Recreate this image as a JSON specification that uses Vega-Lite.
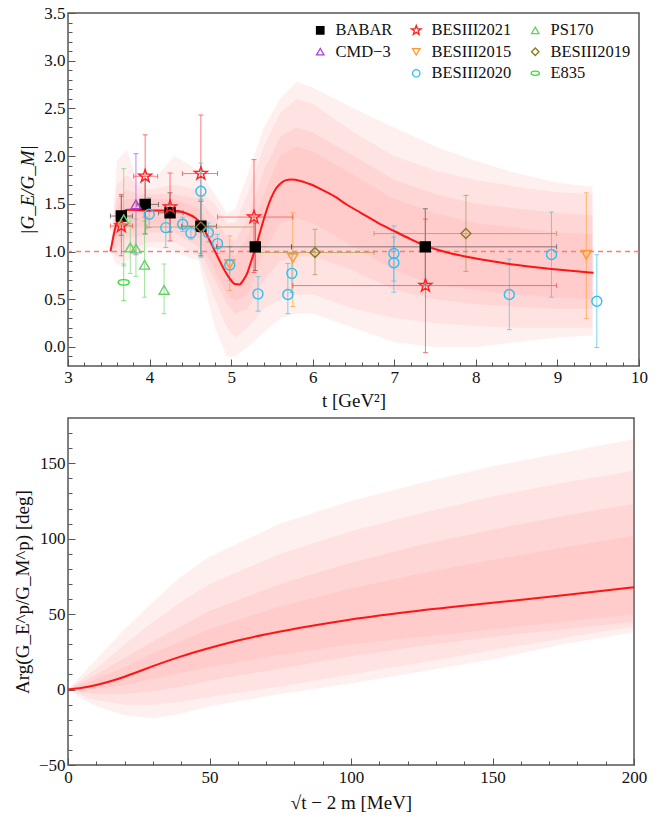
{
  "$schema": "https://vega.github.io/schema/vega-lite/v6.json",
  "padding": {"top": 3, "left": 12, "right": 30, "bottom": 4},
  "spacing": 6,
  "datasets": {
    "pts": [
      {"exp": "BABAR", "t": 3.654, "v": 1.372, "vlo": 1.17, "vhi": 1.58, "tlo": 3.52, "thi": 3.79},
      {"exp": "BABAR", "t": 3.946, "v": 1.494, "vlo": 1.184, "vhi": 1.757, "tlo": 3.845, "thi": 4.11},
      {"exp": "BABAR", "t": 4.251, "v": 1.406, "vlo": 1.205, "vhi": 1.615, "tlo": 4.11, "thi": 4.41},
      {"exp": "BABAR", "t": 4.629, "v": 1.265, "vlo": 0.955, "vhi": 1.528, "tlo": 4.394, "thi": 4.821},
      {"exp": "BABAR", "t": 5.296, "v": 1.049, "vlo": 0.8, "vhi": 1.3, "tlo": 4.821, "thi": 5.74},
      {"exp": "BABAR", "t": 7.38, "v": 1.049, "vlo": 0.65, "vhi": 1.448, "tlo": 5.74, "thi": 8.99},
      {"exp": "BESIII2021", "t": 3.654, "v": 1.268, "vlo": 0.955, "vhi": 1.598, "tlo": 3.52, "thi": 3.79},
      {"exp": "BESIII2021", "t": 3.946, "v": 1.789, "vlo": 1.36, "vhi": 2.223, "tlo": 3.805, "thi": 4.098},
      {"exp": "BESIII2021", "t": 4.251, "v": 1.466, "vlo": 1.111, "vhi": 1.823},
      {"exp": "BESIII2021", "t": 4.629, "v": 1.817, "vlo": 1.2, "vhi": 2.431, "tlo": 4.402, "thi": 4.833},
      {"exp": "BESIII2021", "t": 5.28, "v": 1.361, "vlo": 0.78, "vhi": 1.963, "tlo": 4.833, "thi": 5.756},
      {"exp": "BESIII2021", "t": 7.382, "v": 0.643, "vlo": -0.06, "vhi": 1.34, "tlo": 5.756, "thi": 8.99},
      {"exp": "CMD−3", "t": 3.833, "v": 1.494, "vlo": 0.966, "vhi": 2.025},
      {"exp": "PS170", "t": 3.683, "v": 1.338, "vlo": 0.85, "vhi": 1.869},
      {"exp": "PS170", "t": 3.763, "v": 1.042, "vlo": 0.771, "vhi": 1.354},
      {"exp": "PS170", "t": 3.833, "v": 1.031, "vlo": 0.74, "vhi": 1.34},
      {"exp": "PS170", "t": 3.939, "v": 0.861, "vlo": 0.521, "vhi": 1.32},
      {"exp": "PS170", "t": 4.178, "v": 0.598, "vlo": 0.348, "vhi": 0.869},
      {"exp": "E835", "t": 3.683, "v": 0.677, "vlo": 0.486, "vhi": 0.869},
      {"exp": "BESIII2015", "t": 4.983, "v": 0.869, "vlo": 0.591, "vhi": 1.164},
      {"exp": "BESIII2015", "t": 5.756, "v": 0.931, "vlo": 0.424, "vhi": 1.406},
      {"exp": "BESIII2015", "t": 9.354, "v": 0.966, "vlo": 0.296, "vhi": 1.615},
      {"exp": "BESIII2019", "t": 4.629, "v": 1.257, "vlo": 0.98, "vhi": 1.55, "tlo": 3.967, "thi": 5.296},
      {"exp": "BESIII2019", "t": 6.028, "v": 0.99, "vlo": 0.757, "vhi": 1.233, "tlo": 5.296, "thi": 6.751},
      {"exp": "BESIII2019", "t": 7.878, "v": 1.188, "vlo": 0.792, "vhi": 1.588, "tlo": 6.751, "thi": 8.99},
      {"exp": "BESIII2020", "t": 3.995, "v": 1.39, "vlo": 1.25, "vhi": 1.563},
      {"exp": "BESIII2020", "t": 4.199, "v": 1.25, "vlo": 1.042, "vhi": 1.494},
      {"exp": "BESIII2020", "t": 4.406, "v": 1.285, "vlo": 1.21, "vhi": 1.36},
      {"exp": "BESIII2020", "t": 4.507, "v": 1.195, "vlo": 1.13, "vhi": 1.26},
      {"exp": "BESIII2020", "t": 4.629, "v": 1.632, "vlo": 0.94, "vhi": 1.927},
      {"exp": "BESIII2020", "t": 4.72, "v": 1.198, "vlo": 1.1, "vhi": 1.3},
      {"exp": "BESIII2020", "t": 4.833, "v": 1.083, "vlo": 0.98, "vhi": 1.18},
      {"exp": "BESIII2020", "t": 4.983, "v": 0.858, "vlo": 0.7, "vhi": 1.05},
      {"exp": "BESIII2020", "t": 5.329, "v": 0.556, "vlo": 0.375, "vhi": 0.736},
      {"exp": "BESIII2020", "t": 5.695, "v": 0.549, "vlo": 0.348, "vhi": 0.875},
      {"exp": "BESIII2020", "t": 5.744, "v": 0.771, "vlo": 0.57, "vhi": 0.97},
      {"exp": "BESIII2020", "t": 6.995, "v": 0.979, "vlo": 0.69, "vhi": 1.268},
      {"exp": "BESIII2020", "t": 6.995, "v": 0.882, "vlo": 0.573, "vhi": 1.15},
      {"exp": "BESIII2020", "t": 8.41, "v": 0.549, "vlo": 0.181, "vhi": 0.921},
      {"exp": "BESIII2020", "t": 8.927, "v": 0.969, "vlo": 0.521, "vhi": 1.414},
      {"exp": "BESIII2020", "t": 9.483, "v": 0.479, "vlo": -0.006, "vhi": 0.966}
    ],
    "curve1": [
      {"t": 3.52, "v": 1.0}, {"t": 3.55, "v": 1.13}, {"t": 3.58, "v": 1.25}, {"t": 3.62, "v": 1.35},
      {"t": 3.683, "v": 1.424}, {"t": 3.744, "v": 1.438}, {"t": 3.85, "v": 1.435}, {"t": 3.946, "v": 1.428},
      {"t": 4.15, "v": 1.431}, {"t": 4.354, "v": 1.424}, {"t": 4.45, "v": 1.4}, {"t": 4.556, "v": 1.354},
      {"t": 4.62, "v": 1.3}, {"t": 4.678, "v": 1.216}, {"t": 4.74, "v": 1.11}, {"t": 4.8, "v": 1.007},
      {"t": 4.86, "v": 0.9}, {"t": 4.922, "v": 0.799}, {"t": 4.98, "v": 0.72}, {"t": 5.044, "v": 0.66},
      {"t": 5.1, "v": 0.655}, {"t": 5.146, "v": 0.695}, {"t": 5.2, "v": 0.78}, {"t": 5.248, "v": 0.903},
      {"t": 5.31, "v": 1.07}, {"t": 5.37, "v": 1.25}, {"t": 5.43, "v": 1.42}, {"t": 5.491, "v": 1.5625},
      {"t": 5.55, "v": 1.66}, {"t": 5.613, "v": 1.719}, {"t": 5.675, "v": 1.748}, {"t": 5.735, "v": 1.754},
      {"t": 5.85, "v": 1.74}, {"t": 5.979, "v": 1.702}, {"t": 6.12, "v": 1.645}, {"t": 6.263, "v": 1.58},
      {"t": 6.42, "v": 1.49}, {"t": 6.589, "v": 1.406}, {"t": 6.8, "v": 1.3}, {"t": 6.995, "v": 1.216},
      {"t": 7.2, "v": 1.13}, {"t": 7.382, "v": 1.059}, {"t": 7.65, "v": 0.99}, {"t": 7.971, "v": 0.931},
      {"t": 8.2, "v": 0.897}, {"t": 8.41, "v": 0.869}, {"t": 8.65, "v": 0.843}, {"t": 8.927, "v": 0.817},
      {"t": 9.2, "v": 0.795}, {"t": 9.443, "v": 0.778}
    ],
    "band1": [
      {"band": "A", "t": 3.52, "lo": 1.0, "hi": 1.0}, {"band": "A", "t": 3.6, "lo": 0.85, "hi": 1.95}, {"band": "A", "t": 3.72, "lo": 0.9, "hi": 2.07}, {"band": "A", "t": 3.85, "lo": 1.0, "hi": 1.75}, {"band": "A", "t": 4.0, "lo": 1.05, "hi": 1.7}, {"band": "A", "t": 4.3, "lo": 1.0, "hi": 2.0}, {"band": "A", "t": 4.6, "lo": 0.9, "hi": 1.85}, {"band": "A", "t": 4.8, "lo": 0.2, "hi": 1.6}, {"band": "A", "t": 4.95, "lo": -0.1, "hi": 1.4}, {"band": "A", "t": 5.05, "lo": -0.1, "hi": 1.45}, {"band": "A", "t": 5.2, "lo": 0.0, "hi": 1.8}, {"band": "A", "t": 5.4, "lo": 0.15, "hi": 2.3}, {"band": "A", "t": 5.6, "lo": 0.3, "hi": 2.6}, {"band": "A", "t": 5.8, "lo": 0.35, "hi": 2.78}, {"band": "A", "t": 6.0, "lo": 0.35, "hi": 2.72}, {"band": "A", "t": 6.5, "lo": 0.2, "hi": 2.5}, {"band": "A", "t": 7.0, "lo": 0.05, "hi": 2.3}, {"band": "A", "t": 7.5, "lo": 0.0, "hi": 2.1}, {"band": "A", "t": 8.0, "lo": 0.0, "hi": 1.95}, {"band": "A", "t": 8.5, "lo": 0.05, "hi": 1.82}, {"band": "A", "t": 9.0, "lo": 0.1, "hi": 1.72}, {"band": "A", "t": 9.43, "lo": 0.12, "hi": 1.68},
      {"band": "B", "t": 3.52, "lo": 1.0, "hi": 1.0}, {"band": "B", "t": 3.6, "lo": 0.95, "hi": 1.7}, {"band": "B", "t": 3.72, "lo": 1.0, "hi": 1.8}, {"band": "B", "t": 3.85, "lo": 1.05, "hi": 1.7}, {"band": "B", "t": 4.0, "lo": 1.1, "hi": 1.65}, {"band": "B", "t": 4.3, "lo": 1.1, "hi": 1.7}, {"band": "B", "t": 4.6, "lo": 0.95, "hi": 1.65}, {"band": "B", "t": 4.8, "lo": 0.5, "hi": 1.5}, {"band": "B", "t": 4.95, "lo": 0.2, "hi": 1.3}, {"band": "B", "t": 5.05, "lo": 0.1, "hi": 1.3}, {"band": "B", "t": 5.2, "lo": 0.2, "hi": 1.6}, {"band": "B", "t": 5.4, "lo": 0.4, "hi": 2.1}, {"band": "B", "t": 5.6, "lo": 0.5, "hi": 2.45}, {"band": "B", "t": 5.8, "lo": 0.55, "hi": 2.6}, {"band": "B", "t": 6.0, "lo": 0.55, "hi": 2.55}, {"band": "B", "t": 6.5, "lo": 0.4, "hi": 2.25}, {"band": "B", "t": 7.0, "lo": 0.3, "hi": 2.0}, {"band": "B", "t": 7.5, "lo": 0.25, "hi": 1.85}, {"band": "B", "t": 8.0, "lo": 0.22, "hi": 1.75}, {"band": "B", "t": 8.5, "lo": 0.2, "hi": 1.68}, {"band": "B", "t": 9.0, "lo": 0.2, "hi": 1.62}, {"band": "B", "t": 9.43, "lo": 0.2, "hi": 1.6},
      {"band": "C", "t": 3.52, "lo": 1.0, "hi": 1.0}, {"band": "C", "t": 3.6, "lo": 1.05, "hi": 1.55}, {"band": "C", "t": 3.72, "lo": 1.15, "hi": 1.65}, {"band": "C", "t": 3.85, "lo": 1.15, "hi": 1.6}, {"band": "C", "t": 4.0, "lo": 1.2, "hi": 1.6}, {"band": "C", "t": 4.3, "lo": 1.2, "hi": 1.6}, {"band": "C", "t": 4.6, "lo": 1.05, "hi": 1.55}, {"band": "C", "t": 4.8, "lo": 0.7, "hi": 1.35}, {"band": "C", "t": 4.95, "lo": 0.45, "hi": 1.15}, {"band": "C", "t": 5.05, "lo": 0.35, "hi": 1.1}, {"band": "C", "t": 5.2, "lo": 0.4, "hi": 1.35}, {"band": "C", "t": 5.4, "lo": 0.7, "hi": 1.85}, {"band": "C", "t": 5.6, "lo": 0.9, "hi": 2.2}, {"band": "C", "t": 5.8, "lo": 0.95, "hi": 2.3}, {"band": "C", "t": 6.0, "lo": 0.95, "hi": 2.25}, {"band": "C", "t": 6.5, "lo": 0.8, "hi": 2.0}, {"band": "C", "t": 7.0, "lo": 0.6, "hi": 1.75}, {"band": "C", "t": 7.5, "lo": 0.5, "hi": 1.6}, {"band": "C", "t": 8.0, "lo": 0.45, "hi": 1.5}, {"band": "C", "t": 8.5, "lo": 0.42, "hi": 1.45}, {"band": "C", "t": 9.0, "lo": 0.4, "hi": 1.4}, {"band": "C", "t": 9.43, "lo": 0.4, "hi": 1.38},
      {"band": "D", "t": 3.52, "lo": 1.0, "hi": 1.0}, {"band": "D", "t": 3.6, "lo": 1.15, "hi": 1.45}, {"band": "D", "t": 3.72, "lo": 1.25, "hi": 1.55}, {"band": "D", "t": 3.85, "lo": 1.25, "hi": 1.55}, {"band": "D", "t": 4.0, "lo": 1.28, "hi": 1.55}, {"band": "D", "t": 4.3, "lo": 1.28, "hi": 1.55}, {"band": "D", "t": 4.6, "lo": 1.15, "hi": 1.45}, {"band": "D", "t": 4.8, "lo": 0.8, "hi": 1.2}, {"band": "D", "t": 4.95, "lo": 0.55, "hi": 1.0}, {"band": "D", "t": 5.05, "lo": 0.48, "hi": 0.95}, {"band": "D", "t": 5.2, "lo": 0.55, "hi": 1.15}, {"band": "D", "t": 5.4, "lo": 1.0, "hi": 1.6}, {"band": "D", "t": 5.6, "lo": 1.3, "hi": 2.0}, {"band": "D", "t": 5.8, "lo": 1.35, "hi": 2.1}, {"band": "D", "t": 6.0, "lo": 1.3, "hi": 2.05}, {"band": "D", "t": 6.5, "lo": 1.05, "hi": 1.8}, {"band": "D", "t": 7.0, "lo": 0.8, "hi": 1.55}, {"band": "D", "t": 7.5, "lo": 0.65, "hi": 1.4}, {"band": "D", "t": 8.0, "lo": 0.6, "hi": 1.3}, {"band": "D", "t": 8.5, "lo": 0.55, "hi": 1.25}, {"band": "D", "t": 9.0, "lo": 0.52, "hi": 1.2}, {"band": "D", "t": 9.43, "lo": 0.5, "hi": 1.18}
    ],
    "curve2": [
      {"x": 0, "v": 0}, {"x": 5, "v": 1.2}, {"x": 10, "v": 3}, {"x": 15, "v": 5.5}, {"x": 20, "v": 8.5},
      {"x": 25, "v": 12}, {"x": 30, "v": 15.5}, {"x": 40, "v": 22}, {"x": 50, "v": 27.5}, {"x": 60, "v": 32.5},
      {"x": 75, "v": 38.5}, {"x": 90, "v": 43.5}, {"x": 100, "v": 46.5}, {"x": 125, "v": 52.5},
      {"x": 150, "v": 57.5}, {"x": 175, "v": 62.5}, {"x": 200, "v": 67.8}
    ],
    "band2": [
      {"band": "A", "x": 0, "lo": 0, "hi": 0}, {"band": "A", "x": 5, "lo": -6, "hi": 10}, {"band": "A", "x": 10, "lo": -11, "hi": 20}, {"band": "A", "x": 20, "lo": -17, "hi": 40}, {"band": "A", "x": 30, "lo": -19, "hi": 58}, {"band": "A", "x": 40, "lo": -16, "hi": 75}, {"band": "A", "x": 50, "lo": -11, "hi": 88}, {"band": "A", "x": 75, "lo": -3, "hi": 110}, {"band": "A", "x": 100, "lo": 4, "hi": 125}, {"band": "A", "x": 125, "lo": 12, "hi": 137}, {"band": "A", "x": 150, "lo": 20, "hi": 148}, {"band": "A", "x": 175, "lo": 30, "hi": 157}, {"band": "A", "x": 200, "lo": 38, "hi": 166},
      {"band": "B", "x": 0, "lo": 0, "hi": 0}, {"band": "B", "x": 5, "lo": -4, "hi": 7}, {"band": "B", "x": 10, "lo": -7, "hi": 14}, {"band": "B", "x": 20, "lo": -10, "hi": 30}, {"band": "B", "x": 30, "lo": -10, "hi": 45}, {"band": "B", "x": 40, "lo": -8, "hi": 58}, {"band": "B", "x": 50, "lo": -5, "hi": 70}, {"band": "B", "x": 75, "lo": 2, "hi": 90}, {"band": "B", "x": 100, "lo": 10, "hi": 105}, {"band": "B", "x": 125, "lo": 18, "hi": 117}, {"band": "B", "x": 150, "lo": 26, "hi": 128}, {"band": "B", "x": 175, "lo": 34, "hi": 137}, {"band": "B", "x": 200, "lo": 42, "hi": 145},
      {"band": "C", "x": 0, "lo": 0, "hi": 0}, {"band": "C", "x": 5, "lo": -2, "hi": 5}, {"band": "C", "x": 10, "lo": -3, "hi": 10}, {"band": "C", "x": 20, "lo": -3, "hi": 21}, {"band": "C", "x": 30, "lo": -1, "hi": 32}, {"band": "C", "x": 40, "lo": 2, "hi": 42}, {"band": "C", "x": 50, "lo": 6, "hi": 52}, {"band": "C", "x": 75, "lo": 14, "hi": 70}, {"band": "C", "x": 100, "lo": 22, "hi": 84}, {"band": "C", "x": 125, "lo": 29, "hi": 96}, {"band": "C", "x": 150, "lo": 35, "hi": 106}, {"band": "C", "x": 175, "lo": 40, "hi": 115}, {"band": "C", "x": 200, "lo": 45, "hi": 123},
      {"band": "D", "x": 0, "lo": 0, "hi": 0}, {"band": "D", "x": 5, "lo": 0, "hi": 3.5}, {"band": "D", "x": 10, "lo": 0.5, "hi": 7}, {"band": "D", "x": 20, "lo": 3, "hi": 15}, {"band": "D", "x": 30, "lo": 7, "hi": 24}, {"band": "D", "x": 40, "lo": 11, "hi": 32}, {"band": "D", "x": 50, "lo": 15, "hi": 40}, {"band": "D", "x": 75, "lo": 23, "hi": 55}, {"band": "D", "x": 100, "lo": 30, "hi": 67}, {"band": "D", "x": 125, "lo": 35, "hi": 77}, {"band": "D", "x": 150, "lo": 40, "hi": 86}, {"band": "D", "x": 175, "lo": 45, "hi": 94}, {"band": "D", "x": 200, "lo": 50, "hi": 102}
    ]
  },
  "vconcat": [
    {
      "width": 571,
      "height": 353,
      "resolve": {"axis": {"x": "independent", "y": "independent"}},
      "layer": [
        {
          "data": {"name": "band1"},
          "mark": {"type": "area", "fill": "#ff7070", "opacity": 0.1, "clip": true},
          "encoding": {
            "x": {"field": "t", "type": "quantitative", "title": "t [GeV²]",
              "scale": {"domain": [3, 10], "nice": false, "zero": false},
              "axis": {"orient": "bottom", "values": [3, 4, 5, 6, 7, 8, 9, 10], "format": "d", "tickSize": -7,
                "labelOverlap": false, "labelPadding": 10, "titlePadding": 6}},
            "y": {"field": "lo", "type": "quantitative", "title": "|G_E/G_M|",
              "scale": {"domain": [-0.2, 3.5], "nice": false, "zero": false},
              "axis": {"orient": "left", "titleFontStyle": "italic", "values": [0, 0.5, 1, 1.5, 2, 2.5, 3, 3.5], "format": ".1f", "tickSize": -7,
                "labelOverlap": false, "labelPadding": 10, "titlePadding": 6}},
            "y2": {"field": "hi"},
            "detail": {"field": "band", "type": "nominal"}
          }
        },
        {
          "data": {"values": [{}]},
          "mark": {"type": "rule", "color": "#ff7a7a", "stroke": "#ff7a7a", "strokeDash": [5, 4], "strokeWidth": 1.3},
          "encoding": {"y": {"datum": 1, "type": "quantitative", "axis": null}}
        },
        {
          "data": {"name": "pts"},
          "transform": [{"filter": "isValid(datum.vlo)"}],
          "mark": {"type": "errorbar", "ticks": true, "opacity": 0.75, "thickness": 1},
          "encoding": {
            "x": {"field": "t", "type": "quantitative", "axis": null},
            "y": {"field": "vlo", "type": "quantitative", "axis": null},
            "y2": {"field": "vhi"},
            "color": {"field": "exp", "type": "nominal", "legend": null,
              "scale": {"domain": ["BABAR","BESIII2021","PS170","CMD−3","BESIII2015","BESIII2019","BESIII2020","E835"],
                "range": ["#555555","#ff4a4a","#7ed87e","#b35be8","#ffa53a","#b09a50","#4cc6ee","#55dd55"]}}
          }
        },
        {
          "data": {"name": "pts"},
          "transform": [{"filter": "isValid(datum.tlo)"}],
          "mark": {"type": "errorbar", "ticks": true, "opacity": 0.75, "thickness": 1},
          "encoding": {
            "y": {"field": "v", "type": "quantitative", "axis": null},
            "x": {"field": "tlo", "type": "quantitative", "axis": null},
            "x2": {"field": "thi"},
            "color": {"field": "exp", "type": "nominal", "legend": null}
          }
        },
        {
          "data": {"name": "curve1"},
          "mark": {"type": "line", "stroke": "#ff1414", "strokeWidth": 2, "interpolate": "monotone"},
          "encoding": {
            "x": {"field": "t", "type": "quantitative", "title": null,
              "axis": {"orient": "bottom", "labels": false, "tickSize": -4, "title": null,
                "values": [3.2,3.4,3.6,3.8,4.2,4.4,4.6,4.8,5.2,5.4,5.6,5.8,6.2,6.4,6.6,6.8,7.2,7.4,7.6,7.8,8.2,8.4,8.6,8.8,9.2,9.4,9.6,9.8]}},
            "y": {"field": "v", "type": "quantitative", "title": null,
              "axis": {"orient": "left", "labels": false, "tickSize": -4, "title": null,
                "values": [-0.1,0.1,0.2,0.3,0.4,0.6,0.7,0.8,0.9,1.1,1.2,1.3,1.4,1.6,1.7,1.8,1.9,2.1,2.2,2.3,2.4,2.6,2.7,2.8,2.9,3.1,3.2,3.3,3.4]}}
          }
        },
        {
          "data": {"name": "pts"},
          "mark": {"type": "point", "filled": false, "size": 100, "strokeWidth": 1.4, "opacity": 1},
          "encoding": {
            "x": {"field": "t", "type": "quantitative", "axis": null},
            "y": {"field": "v", "type": "quantitative", "axis": null},
            "shape": {"field": "exp", "type": "nominal", "title": null,
              "legend": {"orient": "none", "legendX": 244, "legendY": 9, "columns": 3, "direction": "vertical", "padding": 0,
                "labelFont": "Liberation Serif", "labelFontSize": 16.5, "labelColor": "#111111", "symbolSize": 55,
                "symbolStrokeWidth": 1.3, "rowPadding": 4.5, "columnPadding": 15, "labelOffset": 7},
              "scale": {"domain": ["BABAR","CMD−3"," ","BESIII2021","BESIII2015","BESIII2020","PS170","BESIII2019","E835"],
                "range": ["square","triangle-up","circle","M0,-1.35L0.317,-0.437L1.284,-0.417L0.513,0.167L0.794,1.092L0,0.54L-0.794,1.092L-0.513,0.167L-1.284,-0.417L-0.317,-0.437Z","triangle-down","circle","triangle-up","diamond","M-1.1,0A1.1,0.55,0,1,1,1.1,0A1.1,0.55,0,1,1,-1.1,0Z"]}},
            "stroke": {"field": "exp", "type": "nominal", "title": null,
              "scale": {"domain": ["BABAR","CMD−3"," ","BESIII2021","BESIII2015","BESIII2020","PS170","BESIII2019","E835"],
                "range": ["#000000","#a83ee0","transparent","#ff2020","#ff9a2a","#2ec0f0","#66d066","#8a7a20","#2ee02e"]}},
            "fill": {"field": "exp", "type": "nominal", "title": null,
              "scale": {"domain": ["BABAR","CMD−3"," ","BESIII2021","BESIII2015","BESIII2020","PS170","BESIII2019","E835"],
                "range": ["#000000","transparent","transparent","transparent","transparent","transparent","transparent","transparent","transparent"]}}
          }
        }
      ]
    },
    {
      "width": 566,
      "height": 347,
      "resolve": {"axis": {"x": "independent", "y": "independent"}},
      "layer": [
        {
          "data": {"name": "band2"},
          "mark": {"type": "area", "fill": "#ff7070", "opacity": 0.1, "clip": true},
          "encoding": {
            "x": {"field": "x", "type": "quantitative", "title": "√t − 2 m [MeV]",
              "scale": {"domain": [0, 200], "nice": false, "zero": false},
              "axis": {"orient": "bottom", "values": [0, 50, 100, 150, 200], "format": "d", "tickSize": -7,
                "labelOverlap": false, "labelPadding": 11, "titlePadding": 8}},
            "y": {"field": "lo", "type": "quantitative", "title": "Arg(G_E^p/G_M^p) [deg]",
              "scale": {"domain": [-50, 180], "nice": false, "zero": false},
              "axis": {"orient": "left", "values": [-50, 0, 50, 100, 150], "format": "d", "tickSize": -7,
                "labelOverlap": false, "labelPadding": 10, "titlePadding": 6}},
            "y2": {"field": "hi"},
            "detail": {"field": "band", "type": "nominal"}
          }
        },
        {
          "data": {"name": "curve2"},
          "mark": {"type": "line", "stroke": "#ff1414", "strokeWidth": 2, "interpolate": "monotone"},
          "encoding": {
            "x": {"field": "x", "type": "quantitative", "title": null,
              "axis": {"orient": "bottom", "labels": false, "tickSize": -4, "title": null,
                "values": [10,20,30,40,60,70,80,90,110,120,130,140,160,170,180,190]}},
            "y": {"field": "v", "type": "quantitative", "title": null,
              "axis": {"orient": "left", "labels": false, "tickSize": -4, "title": null,
                "values": [-40,-30,-20,-10,10,20,30,40,60,70,80,90,110,120,130,140,160,170]}}
          }
        }
      ]
    }
  ],
  "config": {
    "font": "Liberation Serif",
    "view": {"stroke": "#555555", "strokeWidth": 1.5},
    "axis": {"domain": false, "grid": false, "labelFont": "Liberation Serif", "titleFont": "Liberation Serif",
      "labelFontSize": 17, "titleFontSize": 19, "titleFontWeight": "normal", "tickColor": "#555555", "tickWidth": 1,
      "labelColor": "#111111", "titleColor": "#111111", "labelFlush": false}
  }
}
